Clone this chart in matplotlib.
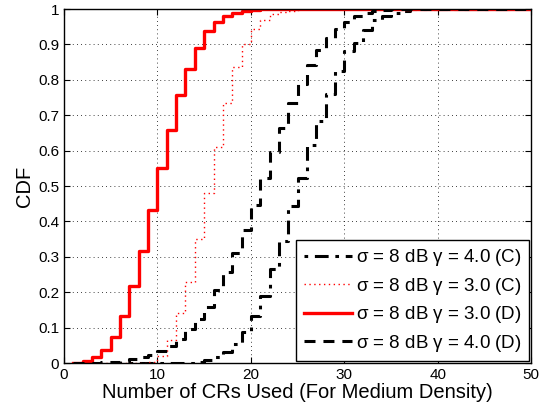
import numpy as np
import matplotlib
matplotlib.use('Agg')
from matplotlib import pyplot as plt

plt.rcParams['font.family'] = ['Liberation Sans', 'DejaVu Sans']

# CDF step values on [k, k+1), first value at x = start
start_c4 = 7
cdf_c4 = [0.0, 0.0, 0.0, 0.0, 0.0, 0.0, 0.0, 0.002, 0.008, 0.017, 0.03, 0.055, 0.088,
          0.133, 0.188, 0.265, 0.345, 0.445, 0.522, 0.616, 0.685, 0.76, 0.825, 0.882,
          0.905, 0.94, 0.97, 0.98, 0.99, 0.996, 0.999, 1.0]

start_c3 = 4
cdf_c3 = [0.0, 0.0, 0.0, 0.0, 0.0, 0.003, 0.02, 0.066, 0.14, 0.23, 0.35, 0.48, 0.61,
          0.735, 0.835, 0.90, 0.945, 0.97, 0.985, 0.992, 0.996, 1.0]

start_d3 = 1
cdf_d3 = [0.0, 0.006, 0.018, 0.037, 0.074, 0.133, 0.218, 0.316, 0.433, 0.55, 0.658,
          0.757, 0.832, 0.891, 0.937, 0.963, 0.98, 0.989, 0.995, 0.998, 0.999, 1.0]

start_d4 = 1
cdf_d4 = [0.0, 0.0, 0.001, 0.002, 0.004, 0.006, 0.01, 0.017, 0.024, 0.034, 0.049,
          0.069, 0.095, 0.123, 0.159, 0.205, 0.258, 0.31, 0.375, 0.447, 0.523, 0.597,
          0.665, 0.735, 0.789, 0.843, 0.885, 0.918, 0.944, 0.964, 0.98, 0.99, 0.995,
          0.998, 1.0]

labels = [r'$\mathregular{\sigma}$ = 8 dB $\mathregular{\gamma}$ = 4.0 (C)',
          r'$\mathregular{\sigma}$ = 8 dB $\mathregular{\gamma}$ = 3.0 (C)',
          r'$\mathregular{\sigma}$ = 8 dB $\mathregular{\gamma}$ = 3.0 (D)',
          r'$\mathregular{\sigma}$ = 8 dB $\mathregular{\gamma}$ = 4.0 (D)']


def steps(start, vals):
    x = np.arange(start, start + len(vals))
    x = np.append(x, 50)
    y = np.append(vals, vals[-1])
    return x, y


fig = plt.figure(figsize=(5.43, 4.13), dpi=100)
ax = fig.add_axes([0.118, 0.121, 0.860, 0.857])

x, y = steps(start_c4, cdf_c4)
ax.step(x, y, where='post', color='k', lw=2.2, linestyle=(0, (1.2, 2.2, 4.5, 2.2)), label=labels[0])
x, y = steps(start_c3, cdf_c3)
ax.step(x, y, where='post', color='red', lw=1, linestyle=(0, (1, 2.5)), label=labels[1])
x, y = steps(start_d3, cdf_d3)
ax.step(x, y, where='post', color='red', lw=2.4, linestyle='-', label=labels[2])
x, y = steps(start_d4, cdf_d4)
ax.step(x, y, where='post', color='k', lw=2.2, linestyle=(0, (3.6, 2.6)), label=labels[3])

ax.set_xlim(0, 50)
ax.set_ylim(0, 1)
ax.set_xticks(np.arange(0, 51, 10))
ax.set_yticks(np.arange(0, 1.01, 0.1))
ax.set_yticklabels(['0', '0.1', '0.2', '0.3', '0.4', '0.5', '0.6', '0.7', '0.8', '0.9', '1'])
ax.grid(True, color='k', linestyle=(0, (1, 4)), lw=0.6)
ax.tick_params(direction='in', labelsize=11, top=True, right=True, length=4)
for s in ax.spines.values():
    s.set_linewidth(1)
ax.set_xlabel('Number of CRs Used (For Medium Density)', fontsize=14.5, labelpad=1)
ax.set_ylabel('CDF', fontsize=14.5, labelpad=3)

leg = ax.legend(loc='lower right', fontsize=13.5, frameon=True, fancybox=False,
                edgecolor='k', framealpha=1, handlelength=2.6, borderaxespad=0.1,
                handletextpad=0.2, labelspacing=0.4, borderpad=0.4)
leg.get_frame().set_linewidth(1)

fig.savefig('out.png', dpi=100)
